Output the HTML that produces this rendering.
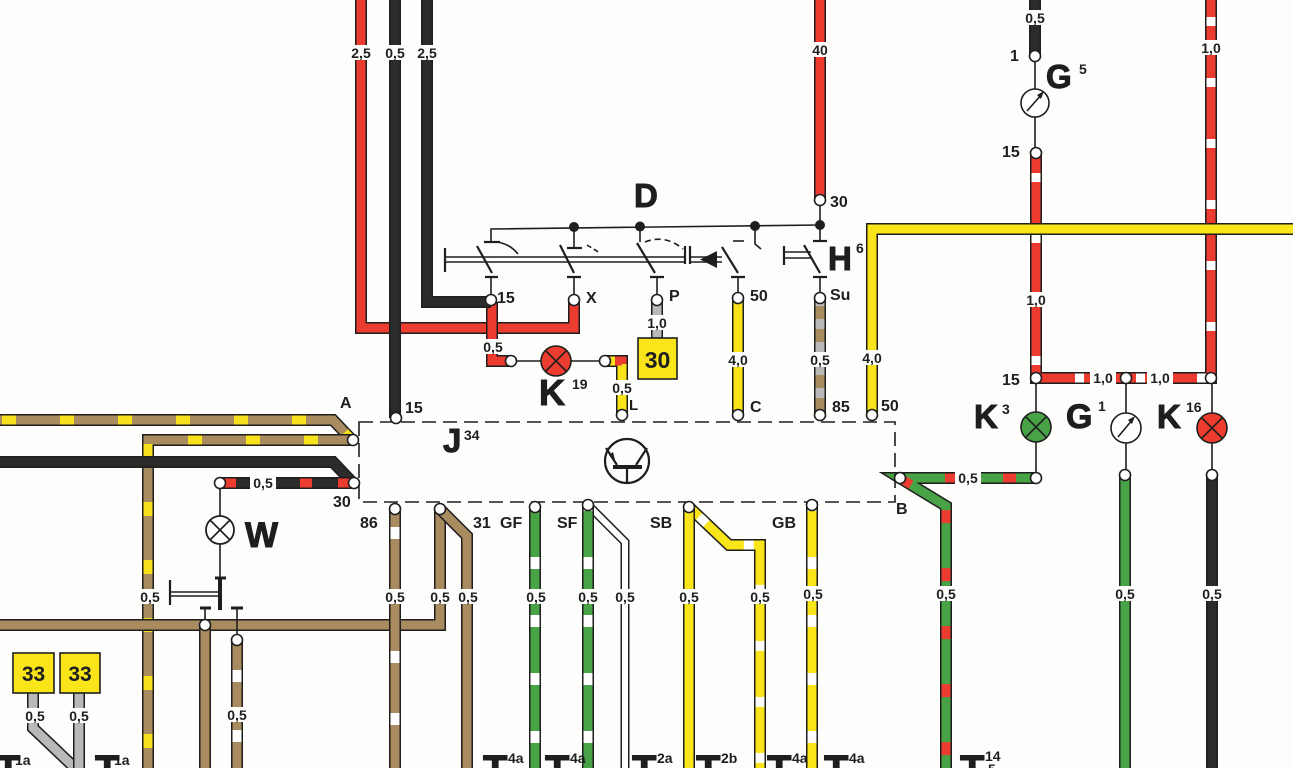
<!DOCTYPE html>
<html><head><meta charset="utf-8"><style>
html,body{margin:0;padding:0;background:#fdfdfb;width:1293px;height:768px;overflow:hidden}
svg{display:block}
.o{fill:none;stroke:#1e1e1e;stroke-width:12}
.i{fill:none;stroke-width:9}
.t{fill:none;stroke:#1e1e1e;stroke-width:1.6}
.b2{fill:none;stroke:#1e1e1e;stroke-width:2.2}
text{font-family:"Liberation Sans",Arial,sans-serif;font-weight:bold;fill:#1e1e1e}
.g{font-size:14px;text-anchor:middle}
.tl{font-size:16px}
.sup{font-size:14px}
.bg{fill:#fdfdfb}
.tc{fill:#fff;stroke:#1e1e1e;stroke-width:1.6}
.hv{stroke:#1e1e1e;stroke-width:1}
</style></head><body>
<svg width="1293" height="768" viewBox="0 0 1293 768" xmlns="http://www.w3.org/2000/svg">

<!-- ===== LEFT WIRES ===== -->
<path class="o" d="M0,420 H333 L352,440"/>
<path class="i" stroke="#a88b5f" d="M0,420 H333 L352,440"/>
<path class="i" stroke="#f6e21c" stroke-dasharray="14 44" stroke-dashoffset="-2" d="M0,420 H333 L352,440"/>

<path class="o" d="M148,768 V440 H352"/>
<path class="i" stroke="#a88b5f" d="M148,768 V440 H352"/>
<path class="i" stroke="#f6e21c" stroke-dasharray="14 44" stroke-dashoffset="-20" d="M148,768 V440 H352"/>

<path class="o" d="M0,462 H333 L353,483"/>
<path class="i" stroke="#2b2b2b" d="M0,462 H333 L353,483"/>

<path class="o" d="M220,483 H353"/>
<path class="i" stroke="#2b2b2b" d="M220,483 H353"/>
<path class="i" stroke="#ec3b2f" stroke-dasharray="12 26" stroke-dashoffset="-4" d="M220,483 H353"/>

<path class="o" d="M0,625 H440 V509"/>
<path class="i" stroke="#a88b5f" d="M0,625 H440 V509"/>

<path class="o" d="M440,509 L467,536 V768"/>
<path class="i" stroke="#a88b5f" d="M440,509 L467,536 V768"/>

<path class="o" d="M395,509 V768"/>
<path class="i" stroke="#a88b5f" d="M395,509 V768"/>
<path class="i" stroke="#fff" stroke-dasharray="12 50" stroke-dashoffset="-18" d="M395,509 V768"/>

<path class="o" d="M205,625 V768"/>
<path class="i" stroke="#a88b5f" d="M205,625 V768"/>

<path class="o" d="M237,640 V768"/>
<path class="i" stroke="#a88b5f" d="M237,640 V768"/>
<path class="i" stroke="#fff" stroke-dasharray="12 48" stroke-dashoffset="-30" d="M237,640 V768"/>

<path class="o" d="M33,693 V728 L75,768"/>
<path class="i" stroke="#b9b9b9" d="M33,693 V728 L75,768"/>
<path class="o" d="M79,693 V768"/>
<path class="i" stroke="#b9b9b9" d="M79,693 V768"/>

<!-- ===== BOTTOM WIRES ===== -->
<path class="o" d="M535,507 V768"/>
<path class="i" stroke="#48a246" d="M535,507 V768"/>
<path class="i" stroke="#fff" stroke-dasharray="12 46" stroke-dashoffset="-50" d="M535,507 V768"/>

<path class="o" d="M588,505 L625,542 V768" style="stroke-width:9"/>
<path class="i" stroke="#fff" style="stroke-width:6" d="M588,505 L625,542 V768"/>

<path class="o" d="M588,505 V768"/>
<path class="i" stroke="#48a246" d="M588,505 V768"/>
<path class="i" stroke="#fff" stroke-dasharray="12 46" stroke-dashoffset="-52" d="M588,505 V768"/>

<path class="o" d="M689,507 L729,545 H760 V768"/>
<path class="i" stroke="#f9e51a" d="M689,507 L729,545 H760 V768"/>
<path class="i" stroke="#fff" stroke-dasharray="10 46" stroke-dashoffset="-14" d="M689,507 L729,545 H760 V768"/>

<path class="o" d="M689,507 V768"/>
<path class="i" stroke="#f9e51a" d="M689,507 V768"/>

<path class="o" d="M812,505 V768"/>
<path class="i" stroke="#f9e51a" d="M812,505 V768"/>
<path class="i" stroke="#fff" stroke-dasharray="12 46" stroke-dashoffset="-52" d="M812,505 V768"/>

<path class="o" d="M1036,478 H900 L946,506 V768"/>
<path class="i" stroke="#48a246" d="M1036,478 H900 L946,506 V768"/>
<path class="i" stroke="#ec3b2f" stroke-dasharray="13 45" stroke-dashoffset="-20" d="M1036,478 H900 L946,506 V768"/>

<path class="o" d="M1125,475 V768"/>
<path class="i" stroke="#48a246" d="M1125,475 V768"/>

<path class="o" d="M1212,475 V768"/>
<path class="i" stroke="#2b2b2b" d="M1212,475 V768"/>

<!-- ===== RIGHT WIRES ===== -->
<path class="o" d="M1036,153 V378 H1211 V0"/>
<path class="i" stroke="#ec3b2f" d="M1036,153 V378 H1211 V0"/>
<path class="i" stroke="#fff" stroke-dasharray="9 52" stroke-dashoffset="-20" d="M1036,153 V378 H1211 V0"/>

<path class="o" d="M1035,0 V56"/>
<path class="i" stroke="#2b2b2b" d="M1035,0 V56"/>

<path class="o" d="M872,415 V229 H1293"/>
<path class="i" stroke="#f9e51a" d="M872,415 V229 H1293"/>

<path class="o" d="M820,0 V200"/>
<path class="i" stroke="#ec3b2f" d="M820,0 V200"/>

<!-- ===== TOP-LEFT WIRES ===== -->
<path class="o" d="M361,0 V328 H574 V302"/>
<path class="i" stroke="#ec3b2f" d="M361,0 V328 H574 V302"/>
<path class="o" d="M492,302 V361 H511"/>
<path class="i" stroke="#ec3b2f" d="M492,302 V361 H511"/>

<path class="o" d="M427,0 V302 H491"/>
<path class="i" stroke="#2b2b2b" d="M427,0 V302 H491"/>
<path class="o" d="M395,0 V418"/>
<path class="i" stroke="#2b2b2b" d="M395,0 V418"/>

<!-- switch outputs -->
<path class="o" d="M657,300 V338"/>
<path class="i" stroke="#b9b9b9" d="M657,300 V338"/>
<path class="o" d="M738,298 V415"/>
<path class="i" stroke="#f9e51a" d="M738,298 V415"/>
<path class="o" d="M820,298 V415"/>
<path class="i" stroke="#b9b9b9" d="M820,298 V415"/>
<path class="i" stroke="#a88b5f" stroke-dasharray="13 10" stroke-dashoffset="-8" d="M820,298 V415"/>
<path class="o" d="M605,361 H622 V415"/>
<path class="i" stroke="#f9e51a" d="M605,361 H622 V415"/>
<path class="i" stroke="#ec3b2f" stroke-dasharray="10 20" stroke-dashoffset="-10" d="M605,361 H622 V415"/>

<!-- ===== SWITCH D ===== -->
<path class="t" d="M491,242 V229 L820,225"/>
<path class="b2" d="M484,242 H500"/>
<path class="t" d="M497,242 Q510,244 518,254"/>
<circle cx="574" cy="227" r="5" fill="#1e1e1e"/>
<circle cx="640" cy="226.5" r="5" fill="#1e1e1e"/>
<circle cx="755" cy="226" r="5" fill="#1e1e1e"/>
<circle cx="820" cy="225" r="5" fill="#1e1e1e"/>
<path class="t" d="M574,227 V248"/><path class="b2" d="M567,248 H582"/>
<path class="t" d="M587,245 L600,253" stroke-dasharray="5 3"/>
<path class="t" d="M640,227 V242"/>
<path class="t" d="M645,242 Q665,234 683,249" stroke-dasharray="6 4"/>
<path class="t" d="M755,226 V244 L761,249"/>
<path class="t" d="M733,241 H744"/>
<path class="t" d="M820,225 V241"/><path class="b2" d="M813,241 H827"/>
<path class="t" d="M820,225 V205"/>
<!-- mechanical link -->
<path class="t" d="M445,257 H685 M445,262 H685 M690,257 H722 M690,262 H722"/>
<path class="b2" d="M445,248 V272 M685,246 V264 M690,246 V264"/>
<path d="M700,259.5 L717,251 L717,268 Z" fill="#1e1e1e"/>
<path class="t" d="M784,252 H811 M784,258 H811"/>
<path class="b2" d="M784,246 V265"/>
<!-- blades -->
<path class="b2" d="M477,246 L492,273 M560,245 L574,273 M637,243 L655,273 M722,247 L738,273 M804,245 L820,273"/>
<path class="b2" d="M485,277 H498 M567,277 H581 M650,277 H664 M731,277 H745 M813,277 H827"/>
<path class="t" d="M491,277 V300 M574,277 V300 M657,277 V300 M738,277 V298 M820,277 V298"/>

<!-- J34 box -->
<rect x="359" y="422" width="536" height="80" fill="none" stroke="#1e1e1e" stroke-width="1.6" stroke-dasharray="14 7"/>
<circle cx="627" cy="461" r="22" fill="none" stroke="#1e1e1e" stroke-width="2.2"/>
<path d="M613,467 H642" stroke="#1e1e1e" stroke-width="4"/>
<path class="b2" d="M627,467 V483 M617,465 L606,448 M636,465 L647,448"/>
<path d="M616,464 L609,455 L613,452 Z" fill="#1e1e1e"/>

<!-- lamps / gauges -->
<path class="t" d="M511,361 H541 M571,361 H605"/>
<circle cx="556" cy="361" r="15" fill="#ec3b2f" stroke="#1e1e1e" stroke-width="1.6"/>
<path class="t" d="M545.4,350.4 L566.6,371.6 M566.6,350.4 L545.4,371.6"/>

<path class="t" d="M1036,378 V412 M1036,442 V478"/>
<circle cx="1036" cy="427" r="15" fill="#48a246" stroke="#1e1e1e" stroke-width="1.6"/>
<path class="t" d="M1025.4,416.4 L1046.6,437.6 M1046.6,416.4 L1025.4,437.6"/>

<path class="t" d="M1126,378 V413 M1126,443 V475"/>
<circle cx="1126" cy="428" r="15" fill="#fff" stroke="#1e1e1e" stroke-width="1.6"/>
<path class="t" d="M1118,437 L1133,419"/><path d="M1135,416 L1128,420 L1132,424 Z" fill="#1e1e1e"/>

<path class="t" d="M1212,378 V413 M1212,443 V475"/>
<circle cx="1212" cy="428" r="15" fill="#ec3b2f" stroke="#1e1e1e" stroke-width="1.6"/>
<path class="t" d="M1201.4,417.4 L1222.6,438.6 M1222.6,417.4 L1201.4,438.6"/>

<path class="t" d="M1035,56 V89 M1035,117 V153"/>
<circle cx="1035" cy="103" r="14" fill="#fff" stroke="#1e1e1e" stroke-width="1.6"/>
<path class="t" d="M1027,111 L1042,94"/><path d="M1044,91 L1037,95 L1041,99 Z" fill="#1e1e1e"/>

<path class="t" d="M220,483 V516 M220,544 V578"/>
<circle cx="220" cy="530" r="14" fill="#fff" stroke="#1e1e1e" stroke-width="1.8"/>
<path class="t" d="M210,520 L230,540 M230,520 L210,540"/>
<!-- W switch -->
<path d="M220,578 V610" stroke="#1e1e1e" stroke-width="4"/>
<path d="M215,578 H226" stroke="#1e1e1e" stroke-width="3"/>
<path class="t" d="M170,592 H218 M170,596 H218"/>
<path class="b2" d="M170,580 V605"/>
<path d="M200,608 H211 M231,608 H243" stroke="#1e1e1e" stroke-width="3"/>
<path class="t" d="M205,608 V620 M237,608 V635"/>

<!-- terminals -->
<g class="tc">
<circle cx="491" cy="300" r="5.5"/><circle cx="574" cy="300" r="5.5"/><circle cx="657" cy="300" r="5.5"/>
<circle cx="738" cy="298" r="5.5"/><circle cx="820" cy="298" r="5.5"/><circle cx="820" cy="200" r="5.5"/>
<circle cx="511" cy="361" r="5.5"/><circle cx="605" cy="361" r="5.5"/>
<circle cx="622" cy="415" r="5.5"/><circle cx="738" cy="415" r="5.5"/><circle cx="820" cy="415" r="5.5"/><circle cx="872" cy="415" r="5.5"/>
<circle cx="396" cy="418" r="5.5"/><circle cx="353" cy="440" r="5.5"/><circle cx="354" cy="483" r="5.5"/><circle cx="220" cy="483" r="5.5"/>
<circle cx="395" cy="509" r="5.5"/><circle cx="440" cy="509" r="5.5"/><circle cx="535" cy="507" r="5.5"/><circle cx="588" cy="505" r="5.5"/>
<circle cx="689" cy="507" r="5.5"/><circle cx="812" cy="505" r="5.5"/><circle cx="900" cy="478" r="5.5"/>
<circle cx="1036" cy="478" r="5.5"/><circle cx="1036" cy="378" r="5.5"/><circle cx="1126" cy="378" r="5.5"/><circle cx="1211" cy="378" r="5.5"/>
<circle cx="1125" cy="475" r="5.5"/><circle cx="1212" cy="475" r="5.5"/><circle cx="1035" cy="56" r="5.5"/><circle cx="1036" cy="153" r="5.5"/>
<circle cx="205" cy="625" r="5.5"/><circle cx="237" cy="640" r="5.5"/>
</g>

<!-- yellow boxes -->
<rect x="638" y="338" width="39" height="41" fill="#f9e51a" stroke="#1e1e1e" stroke-width="1.6"/>
<text x="657.5" y="368" style="font-size:23px" text-anchor="middle">30</text>
<rect x="13" y="653" width="41" height="40" fill="#f9e51a" stroke="#1e1e1e" stroke-width="1.6"/>
<text x="33.5" y="681" style="font-size:21px" text-anchor="middle">33</text>
<rect x="60" y="653" width="40" height="40" fill="#f9e51a" stroke="#1e1e1e" stroke-width="1.6"/>
<text x="80" y="681" style="font-size:21px" text-anchor="middle">33</text>

<!-- gauge labels -->
<g>
<rect class="bg" x="348" y="45" width="26" height="15"/><text class="g" x="361" y="58">2,5</text>
<rect class="bg" x="382" y="45" width="26" height="15"/><text class="g" x="395" y="58">0,5</text>
<rect class="bg" x="414" y="45" width="26" height="15"/><text class="g" x="427" y="58">2,5</text>
<rect class="bg" x="807" y="42" width="26" height="15"/><text class="g" x="820" y="55">40</text>
<rect class="bg" x="1022" y="10" width="26" height="15"/><text class="g" x="1035" y="23">0,5</text>
<rect class="bg" x="1198" y="40" width="26" height="15"/><text class="g" x="1211" y="53">1,0</text>
<rect class="bg" x="1023" y="292" width="26" height="15"/><text class="g" x="1036" y="305">1,0</text>
<rect class="bg" x="1090" y="370" width="26" height="15"/><text class="g" x="1103" y="383">1,0</text>
<rect class="bg" x="1147" y="370" width="26" height="15"/><text class="g" x="1160" y="383">1,0</text>
<rect class="bg" x="644" y="315" width="26" height="15"/><text class="g" x="657" y="328">1,0</text>
<rect class="bg" x="480" y="339" width="26" height="15"/><text class="g" x="493" y="352">0,5</text>
<rect class="bg" x="609" y="380" width="26" height="15"/><text class="g" x="622" y="393">0,5</text>
<rect class="bg" x="725" y="352" width="26" height="15"/><text class="g" x="738" y="365">4,0</text>
<rect class="bg" x="807" y="352" width="26" height="15"/><text class="g" x="820" y="365">0,5</text>
<rect class="bg" x="859" y="350" width="26" height="15"/><text class="g" x="872" y="363">4,0</text>
<rect class="bg" x="250" y="475" width="26" height="15"/><text class="g" x="263" y="488">0,5</text>
<rect class="bg" x="955" y="470" width="26" height="15"/><text class="g" x="968" y="483">0,5</text>
<rect class="bg" x="137" y="589" width="26" height="15"/><text class="g" x="150" y="602">0,5</text>
<rect class="bg" x="382" y="589" width="26" height="15"/><text class="g" x="395" y="602">0,5</text>
<rect class="bg" x="427" y="589" width="26" height="15"/><text class="g" x="440" y="602">0,5</text>
<rect class="bg" x="455" y="589" width="26" height="15"/><text class="g" x="468" y="602">0,5</text>
<rect class="bg" x="523" y="589" width="26" height="15"/><text class="g" x="536" y="602">0,5</text>
<rect class="bg" x="575" y="589" width="26" height="15"/><text class="g" x="588" y="602">0,5</text>
<rect class="bg" x="612" y="589" width="26" height="15"/><text class="g" x="625" y="602">0,5</text>
<rect class="bg" x="676" y="589" width="26" height="15"/><text class="g" x="689" y="602">0,5</text>
<rect class="bg" x="747" y="589" width="26" height="15"/><text class="g" x="760" y="602">0,5</text>
<rect class="bg" x="800" y="586" width="26" height="15"/><text class="g" x="813" y="599">0,5</text>
<rect class="bg" x="933" y="586" width="26" height="15"/><text class="g" x="946" y="599">0,5</text>
<rect class="bg" x="1112" y="586" width="26" height="15"/><text class="g" x="1125" y="599">0,5</text>
<rect class="bg" x="1199" y="586" width="26" height="15"/><text class="g" x="1212" y="599">0,5</text>
<rect class="bg" x="224" y="707" width="26" height="15"/><text class="g" x="237" y="720">0,5</text>
<rect class="bg" x="22" y="708" width="26" height="15"/><text class="g" x="35" y="721">0,5</text>
<rect class="bg" x="66" y="708" width="26" height="15"/><text class="g" x="79" y="721">0,5</text>
</g>

<!-- terminal labels -->
<g class="tl">
<text x="340" y="408">A</text>
<text x="405" y="413">15</text>
<text x="333" y="507">30</text>
<text x="360" y="528">86</text>
<text x="473" y="528">31</text>
<text x="500" y="528">GF</text>
<text x="557" y="528">SF</text>
<text x="650" y="528">SB</text>
<text x="772" y="528">GB</text>
<text x="896" y="514">B</text>
<text x="881" y="411">50</text>
<text x="750" y="412">C</text>
<text x="832" y="412">85</text>
<text x="629" y="410" style="font-size:15px">L</text>
<text x="497" y="303">15</text>
<text x="586" y="303">X</text>
<text x="669" y="301">P</text>
<text x="750" y="301">50</text>
<text x="830" y="300">Su</text>
<text x="830" y="207">30</text>
<text x="1002" y="385">15</text>
<text x="1002" y="157">15</text>
<text x="1010" y="61">1</text>
</g>

<!-- big labels -->
<g class="hv">
<text x="634" y="207" style="font-size:33px">D</text>
<text x="828" y="270" style="font-size:33px">H</text>
<text x="539" y="405" style="font-size:36px">K</text>
<text x="974" y="428" style="font-size:33px">K</text>
<text x="1066" y="428" style="font-size:34px">G</text>
<text x="1157" y="428" style="font-size:33px">K</text>
<text x="1046" y="88" style="font-size:33px">G</text>
<text x="245" y="547" style="font-size:35px">W</text>
<text x="443" y="452" style="font-size:33px">J</text>
</g>
<g class="sup">
<text x="856" y="253">6</text>
<text x="572" y="389">19</text>
<text x="1002" y="414">3</text>
<text x="1098" y="411">1</text>
<text x="1186" y="412">16</text>
<text x="1079" y="74">5</text>
<text x="464" y="440">34</text>
</g>

<!-- bottom T labels -->
<g style="font-size:40px" class="hv">
<text x="-4" y="783">T</text>
<text x="95" y="783">T</text>
<text x="483" y="783">T</text>
<text x="545" y="783">T</text>
<text x="632" y="783">T</text>
<text x="696" y="783">T</text>
<text x="767" y="783">T</text>
<text x="824" y="783">T</text>
<text x="960" y="783">T</text>
</g>
<g class="sup">
<text x="15" y="765">1a</text>
<text x="114" y="765">1a</text>
<text x="508" y="763">4a</text>
<text x="570" y="763">4a</text>
<text x="657" y="763">2a</text>
<text x="721" y="763">2b</text>
<text x="792" y="763">4a</text>
<text x="849" y="763">4a</text>
<text x="985" y="761">14</text>
<text x="988" y="774">5</text>
</g>
</svg>
</body></html>
